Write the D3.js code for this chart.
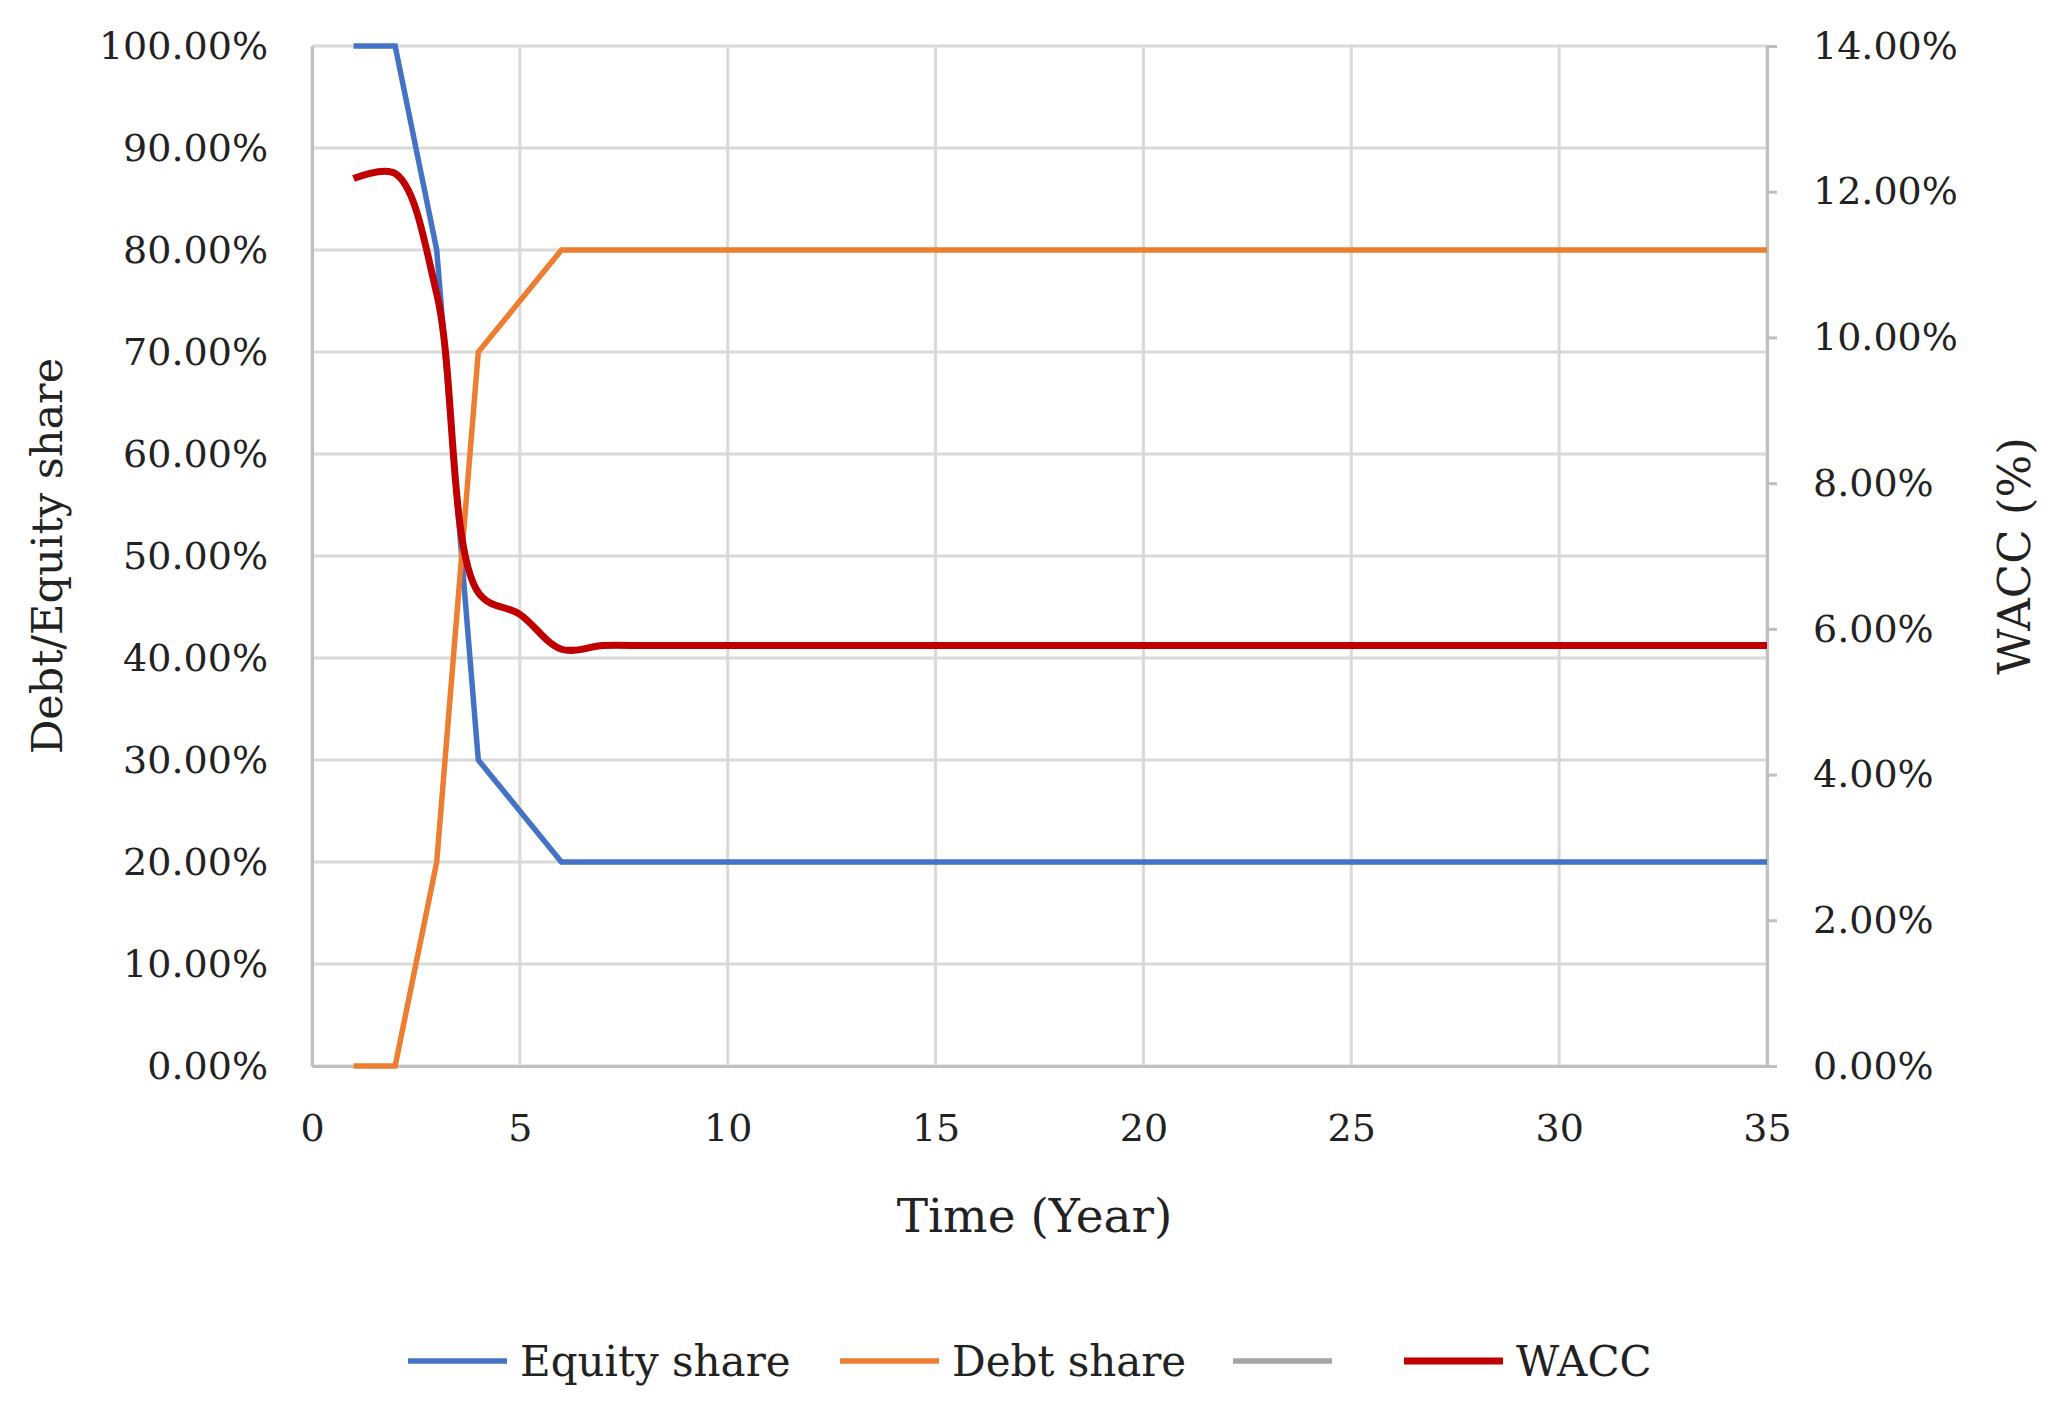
<!DOCTYPE html>
<html><head><meta charset="utf-8">
<script src="https://cdn.jsdelivr.net/npm/d3@7"></script>
<style>body{margin:0;background:#fff}svg{display:block}text{font-family:"DejaVu Serif",serif;fill:#222}</style>
</head><body>
<svg width="2063" height="1415"></svg>
<script>
const years = d3.range(1, 36);
const equity = [100, 100, 80, 30, 25, 20].concat(d3.range(29).map(() => 20));
const debt = [0, 0, 20, 70, 75, 80].concat(d3.range(29).map(() => 80));
const wacc = [12.18, 12.25, 10.6, 6.5, 6.2, 5.72].concat(d3.range(29).map(() => 5.77));
const leftTicks = d3.range(0, 101, 10);
const rightTicks = d3.range(0, 15, 2);
const xTicks = d3.range(0, 36, 5);

const svg = d3.select('svg');
const margin = {top: 46, right: 296, bottom: 349, left: 312};
const innerWidth = 2063 - margin.left - margin.right;
const innerHeight = 1415 - margin.top - margin.bottom;

const x = d3.scaleLinear().domain([0, 35]).range([0, innerWidth]);
const yL = d3.scaleLinear().domain([0, 100]).range([innerHeight, 0]);
const yR = d3.scaleLinear().domain([0, 14]).range([innerHeight, 0]);

const g = svg.append('g').attr('transform', `translate(${margin.left},${margin.top})`);

// grid
g.selectAll('.hg').data(leftTicks).enter().append('line')
  .attr('x1', 0).attr('x2', innerWidth).attr('y1', d => yL(d)).attr('y2', d => yL(d))
  .attr('stroke', '#d9d9d9').attr('stroke-width', 3);
g.selectAll('.vg').data(xTicks).enter().append('line')
  .attr('x1', d => x(d)).attr('x2', d => x(d)).attr('y1', 0).attr('y2', innerHeight)
  .attr('stroke', '#d9d9d9').attr('stroke-width', 3);

const style = sel => {
  sel.select('.domain').attr('stroke', '#bfbfbf').attr('stroke-width', 3);
  sel.selectAll('.tick line').attr('stroke', '#bfbfbf').attr('stroke-width', 3);
  sel.selectAll('text').attr('font-size', 38).attr('font-family', 'DejaVu Serif').attr('fill', '#222');
};
g.append('g').call(d3.axisLeft(yL).tickValues(leftTicks).tickFormat(d => d.toFixed(2) + '%').tickSize(0).tickPadding(44)).call(style);
g.append('g').attr('transform', `translate(${innerWidth},0)`)
  .call(d3.axisRight(yR).tickValues(rightTicks).tickFormat(d => d.toFixed(2) + '%').tickSize(10).tickPadding(36)).call(style);
g.append('g').attr('transform', `translate(0,${innerHeight})`)
  .call(d3.axisBottom(x).tickValues(xTicks).tickSize(0).tickPadding(48)).call(style);

const lineL = d3.line().x((d, i) => x(years[i])).y(d => yL(d));
const lineR = d3.line().x((d, i) => x(years[i])).y(d => yR(d)).curve(d3.curveCatmullRom.alpha(0.5));

g.append('path').datum(equity).attr('d', lineL).attr('fill', 'none').attr('stroke', '#4472c4').attr('stroke-width', 5.5);
g.append('path').datum(debt).attr('d', lineL).attr('fill', 'none').attr('stroke', '#ed7d31').attr('stroke-width', 5.5);
g.append('path').datum(wacc).attr('d', lineR).attr('fill', 'none').attr('stroke', '#c00000').attr('stroke-width', 7);

// titles
svg.append('text').attr('transform', `translate(62,${margin.top + innerHeight / 2}) rotate(-90)`)
  .attr('text-anchor', 'middle').attr('font-size', 43).text('Debt/Equity share');
svg.append('text').attr('transform', `translate(2030,${margin.top + innerHeight / 2}) rotate(-90)`)
  .attr('text-anchor', 'middle').attr('font-size', 45).text('WACC (%)');
svg.append('text').attr('x', margin.left + innerWidth / 2 - 5).attr('y', 1232)
  .attr('text-anchor', 'middle').attr('font-size', 47).text('Time (Year)');

// legend
const legend = [
  {name: 'Equity share', color: '#4472c4', x: 408},
  {name: 'Debt share', color: '#ed7d31', x: 840},
  {name: '', color: '#a5a5a5', x: 1233},
  {name: 'WACC', color: '#c00000', x: 1404}
];
const lg = svg.append('g').selectAll('g').data(legend).enter().append('g')
  .attr('transform', d => `translate(${d.x},1361)`);
lg.append('line').attr('x1', 0).attr('x2', 99).attr('stroke', d => d.color).attr('stroke-width', d => d.name === 'WACC' ? 7 : 5.5);
lg.append('text').attr('x', 112).attr('dy', '0.35em').attr('font-size', 42).text(d => d.name);
</script>
</body></html>
